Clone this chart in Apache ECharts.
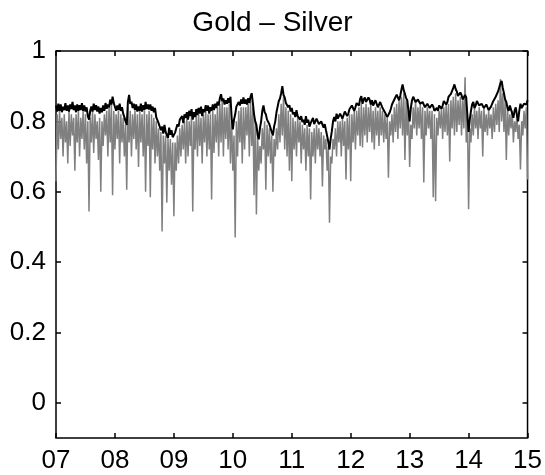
<!DOCTYPE html>
<html>
<head>
<meta charset="utf-8">
<script src="https://cdn.jsdelivr.net/npm/echarts@6/dist/echarts.min.js"></script>
<style>
  html, body { margin: 0; padding: 0; background: #fff; }
  #chart { width: 545px; height: 475px; }
</style>
</head>
<body>
<div id="chart"></div>
<script>
// both series run evenly from start of 2007 to start of 2015
const startYear = 2007
const endYear = 2015
const yTicks = [0, 0.2, 0.4, 0.6, 0.8, 1]

// black line
const upper = [
  0.845, 0.828, 0.85, 0.83, 0.848, 0.826, 0.842, 0.832, 0.852, 0.83, 0.845, 0.828, 0.848, 0.835, 0.855, 0.832, 0.845, 0.826, 0.848, 0.83,
  0.846, 0.832, 0.852, 0.83, 0.845, 0.828, 0.84, 0.815, 0.805, 0.83, 0.842, 0.828, 0.85, 0.832, 0.846, 0.828, 0.842, 0.822, 0.838, 0.826,
  0.845, 0.83, 0.852, 0.836, 0.848, 0.84, 0.862, 0.848, 0.87, 0.852, 0.848, 0.83, 0.845, 0.832, 0.85, 0.83, 0.84, 0.822, 0.812, 0.8,
  0.79, 0.855, 0.875, 0.85, 0.856, 0.838, 0.85, 0.832, 0.848, 0.828, 0.842, 0.83, 0.85, 0.828, 0.846, 0.832, 0.855, 0.835, 0.848, 0.834,
  0.848, 0.83, 0.842, 0.826, 0.838, 0.812, 0.815, 0.795, 0.8, 0.775, 0.785, 0.765, 0.79, 0.77, 0.765, 0.752, 0.782, 0.762, 0.775, 0.755,
  0.75, 0.768, 0.772, 0.792, 0.785, 0.805, 0.8, 0.815, 0.795, 0.82, 0.81, 0.826, 0.805, 0.83, 0.815, 0.835, 0.805, 0.826, 0.812, 0.835,
  0.818, 0.838, 0.822, 0.842, 0.815, 0.835, 0.826, 0.846, 0.83, 0.845, 0.822, 0.84, 0.83, 0.848, 0.832, 0.85, 0.838, 0.856, 0.845, 0.866,
  0.877, 0.858, 0.865, 0.848, 0.86, 0.85, 0.866, 0.852, 0.87, 0.81, 0.777, 0.805, 0.82, 0.842, 0.838, 0.855, 0.845, 0.862, 0.85, 0.868,
  0.85, 0.862, 0.848, 0.866, 0.852, 0.87, 0.88, 0.852, 0.82, 0.8, 0.79, 0.762, 0.749, 0.78, 0.8, 0.83, 0.845, 0.826, 0.82, 0.805,
  0.81, 0.792, 0.795, 0.77, 0.76, 0.785, 0.8, 0.825, 0.842, 0.858, 0.865, 0.88, 0.9, 0.875, 0.868, 0.852, 0.855, 0.84, 0.846, 0.828,
  0.838, 0.82, 0.826, 0.812, 0.832, 0.815, 0.818, 0.805, 0.815, 0.798, 0.805, 0.79, 0.815, 0.796, 0.805, 0.785, 0.795, 0.8, 0.81, 0.792,
  0.8, 0.808, 0.812, 0.792, 0.788, 0.8, 0.805, 0.782, 0.792, 0.775, 0.77, 0.742, 0.72, 0.75, 0.772, 0.8, 0.812, 0.8, 0.822, 0.808,
  0.805, 0.822, 0.826, 0.808, 0.818, 0.828, 0.832, 0.815, 0.822, 0.835, 0.836, 0.845, 0.846, 0.83, 0.84, 0.852, 0.856, 0.845, 0.864, 0.872,
  0.85, 0.862, 0.868, 0.855, 0.858, 0.868, 0.862, 0.848, 0.86, 0.845, 0.848, 0.86, 0.855, 0.84, 0.845, 0.855, 0.85, 0.838, 0.836, 0.826,
  0.822, 0.812, 0.81, 0.825, 0.835, 0.848, 0.852, 0.862, 0.865, 0.876, 0.875, 0.86, 0.872, 0.89, 0.905, 0.888, 0.878, 0.866, 0.86, 0.83,
  0.8, 0.838, 0.86, 0.87, 0.872, 0.855, 0.852, 0.862, 0.866, 0.85, 0.845, 0.855, 0.858, 0.84, 0.838, 0.85, 0.852, 0.838, 0.835, 0.848,
  0.842, 0.83, 0.825, 0.838, 0.83, 0.845, 0.85, 0.836, 0.845, 0.858, 0.862, 0.848, 0.855, 0.87, 0.87, 0.878, 0.88, 0.895, 0.905, 0.892,
  0.885, 0.872, 0.87, 0.882, 0.875, 0.862, 0.86, 0.875, 0.868, 0.815, 0.77, 0.805, 0.83, 0.848, 0.855, 0.838, 0.845, 0.858, 0.86, 0.845,
  0.84, 0.85, 0.852, 0.838, 0.835, 0.848, 0.848, 0.832, 0.83, 0.842, 0.845, 0.858, 0.86, 0.87, 0.875, 0.885, 0.89, 0.908, 0.915, 0.895,
  0.88, 0.862, 0.855, 0.838, 0.83, 0.845, 0.845, 0.822, 0.81, 0.83, 0.84, 0.818, 0.8, 0.83, 0.85, 0.838, 0.835, 0.85, 0.855, 0.848,
  0.86
]

// grey line
const lower = [
  0.63, 0.82, 0.72, 0.83, 0.75, 0.81, 0.7, 0.82, 0.74, 0.8, 0.68, 0.83, 0.73, 0.82, 0.76, 0.81, 0.66, 0.82, 0.74, 0.83,
  0.7, 0.81, 0.75, 0.83, 0.72, 0.82, 0.68, 0.8, 0.544, 0.81, 0.74, 0.83, 0.71, 0.82, 0.75, 0.8, 0.69, 0.81, 0.6, 0.8,
  0.73, 0.82, 0.76, 0.83, 0.7, 0.84, 0.74, 0.85, 0.59, 0.83, 0.72, 0.82, 0.75, 0.83, 0.68, 0.82, 0.74, 0.81, 0.7, 0.79,
  0.606, 0.84, 0.74, 0.83, 0.7, 0.82, 0.75, 0.83, 0.72, 0.82, 0.67, 0.83, 0.74, 0.82, 0.7, 0.83, 0.6, 0.82, 0.73, 0.83,
  0.584, 0.82, 0.72, 0.81, 0.68, 0.8, 0.7, 0.78, 0.66, 0.77, 0.487, 0.76, 0.68, 0.76, 0.569, 0.75, 0.66, 0.75, 0.62, 0.74,
  0.53, 0.74, 0.66, 0.76, 0.68, 0.78, 0.7, 0.79, 0.72, 0.8, 0.68, 0.81, 0.7, 0.8, 0.73, 0.82, 0.544, 0.8, 0.72, 0.82,
  0.7, 0.82, 0.73, 0.81, 0.68, 0.82, 0.74, 0.83, 0.7, 0.82, 0.72, 0.82, 0.578, 0.83, 0.71, 0.82, 0.74, 0.84, 0.7, 0.85,
  0.74, 0.86, 0.7, 0.84, 0.75, 0.84, 0.72, 0.85, 0.68, 0.8, 0.66, 0.76, 0.47, 0.8, 0.7, 0.83, 0.74, 0.84, 0.68, 0.84,
  0.72, 0.84, 0.76, 0.85, 0.7, 0.86, 0.73, 0.84, 0.59, 0.8, 0.535, 0.76, 0.66, 0.73, 0.68, 0.78, 0.72, 0.8, 0.606, 0.79,
  0.7, 0.78, 0.68, 0.76, 0.6, 0.75, 0.7, 0.78, 0.72, 0.82, 0.74, 0.85, 0.76, 0.87, 0.72, 0.84, 0.7, 0.83, 0.66, 0.82,
  0.63, 0.81, 0.72, 0.8, 0.7, 0.81, 0.74, 0.8, 0.68, 0.79, 0.72, 0.78, 0.66, 0.79, 0.7, 0.78, 0.578, 0.77, 0.7, 0.78,
  0.68, 0.79, 0.72, 0.78, 0.7, 0.77, 0.615, 0.76, 0.72, 0.75, 0.66, 0.73, 0.512, 0.7, 0.68, 0.75, 0.72, 0.78, 0.7, 0.8,
  0.74, 0.8, 0.7, 0.81, 0.73, 0.8, 0.635, 0.81, 0.72, 0.82, 0.63, 0.82, 0.74, 0.83, 0.72, 0.83, 0.76, 0.84, 0.73, 0.85,
  0.726, 0.84, 0.76, 0.85, 0.74, 0.84, 0.77, 0.85, 0.74, 0.83, 0.72, 0.84, 0.76, 0.83, 0.73, 0.84, 0.76, 0.83, 0.74, 0.82,
  0.75, 0.81, 0.64, 0.8, 0.76, 0.82, 0.74, 0.84, 0.77, 0.85, 0.75, 0.86, 0.78, 0.87, 0.76, 0.88, 0.69, 0.86, 0.76, 0.84,
  0.67, 0.79, 0.75, 0.84, 0.78, 0.86, 0.76, 0.84, 0.78, 0.85, 0.75, 0.84, 0.626, 0.83, 0.76, 0.84, 0.78, 0.83, 0.75, 0.83,
  0.584, 0.82, 0.573, 0.81, 0.76, 0.83, 0.78, 0.84, 0.75, 0.84, 0.77, 0.85, 0.76, 0.85, 0.686, 0.86, 0.78, 0.87, 0.76, 0.88,
  0.77, 0.86, 0.79, 0.87, 0.76, 0.86, 0.78, 0.925, 0.74, 0.82, 0.55, 0.78, 0.74, 0.82, 0.76, 0.84, 0.78, 0.83, 0.75, 0.84,
  0.78, 0.83, 0.7, 0.84, 0.77, 0.82, 0.76, 0.83, 0.78, 0.82, 0.75, 0.84, 0.77, 0.85, 0.79, 0.86, 0.77, 0.92, 0.8, 0.88,
  0.77, 0.86, 0.69, 0.84, 0.76, 0.82, 0.78, 0.83, 0.74, 0.8, 0.77, 0.82, 0.75, 0.79, 0.663, 0.8, 0.76, 0.83, 0.78, 0.84,
  0.635
]

const toPairs = arr => {
  const step = (endYear - startYear) / (arr.length - 1)
  return arr.map((v, i) => [startYear + i * step, v])
}

const font = 'Liberation Sans, Arial, Helvetica, sans-serif'
const tick = {show: true, inside: true, length: 5, lineStyle: {color: '#000', width: 1.5}}
const noLine = {show: false, onZero: false}

const option = {
  animation: false,
  backgroundColor: '#fff',
  title: {
    text: 'Gold \u2013 Silver',
    left: 'center',
    top: 9,
    padding: 0,
    textStyle: {fontFamily: font, fontSize: 28, fontWeight: 'normal', color: '#000'}
  },
  grid: {
    left: 56,
    right: 14,
    top: 51,
    bottom: 37,
    show: true,
    borderColor: '#000',
    borderWidth: 1.5
  },
  xAxis: [
    {
      type: 'value',
      min: startYear,
      max: endYear,
      interval: 1,
      axisLine: noLine,
      axisTick: tick,
      splitLine: {show: false},
      axisLabel: {
        margin: 10,
        fontFamily: font,
        fontSize: 26,
        color: '#000',
        formatter: v => String(v).slice(2)
      }
    },
    {
      type: 'value',
      position: 'top',
      min: startYear,
      max: endYear,
      interval: 1,
      axisLine: noLine,
      axisTick: tick,
      splitLine: {show: false},
      axisLabel: {show: false}
    }
  ],
  yAxis: [
    {
      type: 'value',
      min: -0.1,
      max: 1,
      axisLine: noLine,
      axisTick: Object.assign({customValues: yTicks}, tick),
      splitLine: {show: false},
      axisLabel: {
        customValues: yTicks,
        margin: 10,
        fontFamily: font,
        fontSize: 26,
        color: '#000'
      }
    },
    {
      type: 'value',
      position: 'right',
      min: -0.1,
      max: 1,
      axisLine: noLine,
      axisTick: Object.assign({customValues: yTicks}, tick),
      splitLine: {show: false},
      axisLabel: {show: false}
    }
  ],
  series: [
    {
      name: 'grey',
      type: 'line',
      data: toPairs(lower),
      showSymbol: false,
      lineStyle: {color: '#808080', width: 1.5},
      z: 2
    },
    {
      name: 'black',
      type: 'line',
      data: toPairs(upper),
      showSymbol: false,
      lineStyle: {color: '#000', width: 2},
      z: 3
    }
  ]
}

const chart = echarts.init(document.getElementById('chart'), null, {renderer: 'canvas'})
chart.setOption(option)
</script>
</body>
</html>
